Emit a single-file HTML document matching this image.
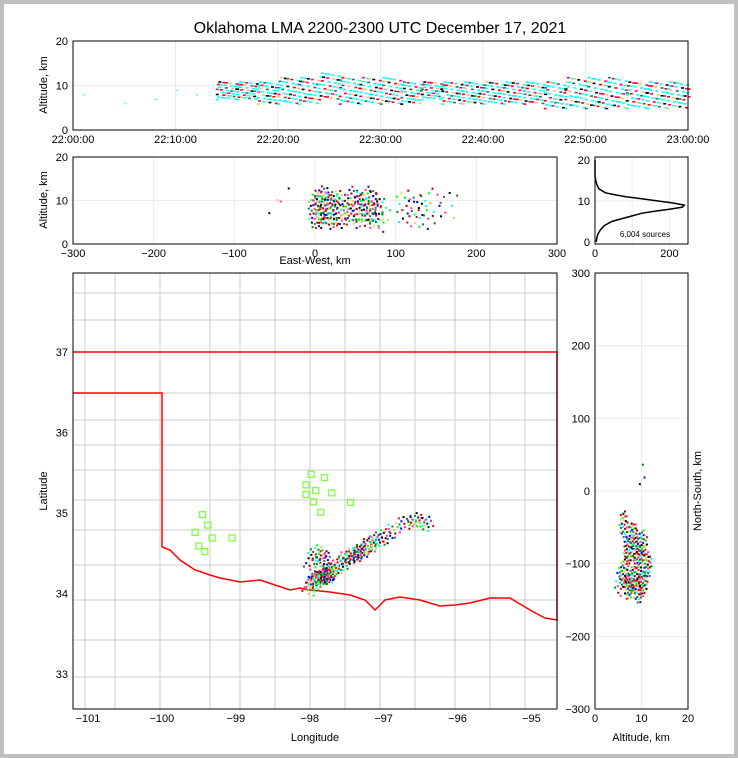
<!DOCTYPE html>
<html><head><meta charset="utf-8"><style>
html,body{margin:0;padding:0;background:#c0c0c0}
#wrap{position:absolute;left:4px;top:4px;width:730px;height:750px;background:#fff}
svg{position:absolute;left:0;top:0}
text{font-family:"Liberation Sans",sans-serif;fill:#000}
</style></head><body>
<div id="wrap"></div>
<svg id="s" width="738" height="758"></svg>
<script>
// ---- data ----
const timeMin=[15,17,19,21,23,25,27,29,31,33,35,37,39,41,43,45,47,49,51,53,55,57,59];
const timeAltLo=[7,7,6,6,6,7,6,6,6,6,7,6,6,6,6,6,5,5,5,5,5,5,5];
const timeAltHi=[11,11,11,12,12,13,12,12,12,11,11,11,11,11,11,11,11,12,12,12,11,11,11];
const earlyMin=[1,8,12,5,10];
const earlyAlt=[8,7,8,6,9];
const ewKm=[2,10,20,30,45,55,65,72,80,110,125,135,150,165,-50,-40];
const ewAlt=[8,9,8,8,9,8,9,8,7,9,8,8,9,9,10,13];
const ewCount=[50,50,45,40,40,30,40,30,14,15,15,12,8,6,2,2];
const histAlt=[0,1,2,3,4,5,6,7,7.5,8,8.5,9,9.5,10,10.5,11,11.5,12,13,14,15,16,20];
const histCnt=[3,5,8,15,25,45,85,125,160,200,235,240,210,170,130,85,55,28,10,5,2,0,0];
const stormLon=[-98.0,-97.95,-97.88,-97.8,-97.75,-97.68,-97.6,-97.5,-97.4,-97.3,-97.2,-97.1,-97.0,-96.9,-96.7,-96.55,-96.45,-97.85,-97.9,-97.98];
const stormLat=[34.08,34.15,34.2,34.22,34.28,34.33,34.38,34.45,34.5,34.55,34.62,34.68,34.73,34.8,34.9,34.92,34.88,34.45,34.52,34.38];
const stormCount=[12,25,40,40,25,18,18,22,25,28,25,18,12,12,15,18,12,20,18,12];
const sqLon=[-97.98,-97.8,-97.92,-98.05,-97.7,-97.45,-97.95,-98.05,-97.85,-99.45,-99.38,-99.55,-99.32,-99.5,-99.42,-99.05];
const sqLat=[35.48,35.44,35.28,35.35,35.25,35.13,35.14,35.23,35.01,34.98,34.85,34.76,34.69,34.59,34.52,34.69];
const nsAlt=[6,8,10,7,9,11,6,8,10,7,9,5,10];
const nsKm=[-45,-60,-70,-80,-90,-100,-110,-120,-125,-130,-135,-125,20];
const nsCount=[25,35,28,35,40,28,28,35,35,30,25,12,3];
const pal=['#ff0000','#00ff00','#0000ff','#00ffff','#ff3399','#000000','#ffbb66','#2f6f6f','#008800','#a00000'];
const tpal=['#00ffff','#00ffff','#00ffff','#00ffff','#2f6f6f','#ff0000','#ffbb66','#000000','#ff0066','#00ffff'];
// ---- axes ----
const S=document.getElementById('s');const NS='http://www.w3.org/2000/svg';
function el(t,a,p){const e=document.createElementNS(NS,t);for(const k in a)e.setAttribute(k,a[k]);(p||S).appendChild(e);return e;}
function txt(x,y,s,anchor,fs,tr){const e=el('text',{x:x,y:y,'text-anchor':anchor||'middle'});e.style.fontSize=(fs||11)+'px';if(tr)e.setAttribute('transform',tr);e.textContent=s;return e;}
const tx=m=>73+m/60*615, ty=a=>130-a/20*89;
const ex=k=>315+k/300*242, ey=a=>244-a/20*87;
const hx=c=>595+c/250*93, hy=a=>242-a/20*82;
const mx=l=>88+(l+101)*73.9, my=l=>352-(l-37)*80.5;
const nx=a=>595+a/20*93, ny=k=>491-k/300*218;
function frame(x,y,w,h,name){const r=el('rect',{x:x,y:y,width:w,height:h,fill:'none',stroke:'#000','stroke-width':1});}
function grid(x1,y1,x2,y2){el('line',{x1:x1,y1:y1,x2:x2,y2:y2,stroke:'#ececec','stroke-width':1});}
function spiral(cx,cy,n,sx,sy,cb){for(let i=0;i<n;i++){const r=Math.sqrt((i+0.5)/n),t=i*2.39996;cb(cx+Math.cos(t)*r*sx,cy+Math.sin(t)*r*sy,i);}}
// title
const ti=txt(380,33,'Oklahoma LMA 2200-2300 UTC December 17, 2021','middle',16);

// panel 1: time-height
grid(73,ty(10),688,ty(10));
for(let m=10;m<60;m+=10)grid(tx(m),41,tx(m),130);
timeMin.forEach((m,i)=>{for(let j=0;j<36;j++){const x=tx(m)+((j*7)%17)*1.3-11,a=timeAltLo[i]+((j*37)%100)/100*(timeAltHi[i]-timeAltLo[i]);
const r=el('rect',{x:x,y:ty(a),width:3,height:1.6,fill:tpal[(i*3+j)%tpal.length]});}});
earlyMin.forEach((m,i)=>{const r=el('rect',{x:tx(m),y:ty(earlyAlt[i]),width:2,height:1,fill:'#00ffff'});});
frame(73,41,615,89,'time-height-axes');
['0','10','20'].forEach((s,i)=>txt(68,ty(i*10)+4,s,'end'));
['22:00:00','22:10:00','22:20:00','22:30:00','22:40:00','22:50:00','23:00:00'].forEach((s,i)=>txt(tx(i*10),143,s));
txt(47,85,'Altitude, km','middle',11,'rotate(-90 47 85)');
// panel 2: EW
grid(73,ey(10),557,ey(10));[-200,-100,0,100,200].forEach(k=>grid(ex(k),157,ex(k),244));
ewKm.forEach((k,i)=>spiral(ex(k),ey(ewAlt[i]),ewCount[i],10,20,(x,y,j)=>{const r=el('rect',{x:x,y:y,width:2,height:2,fill:pal[(i+j)%pal.length]});}));
frame(73,157,484,87,'ew-height-axes');
['0','10','20'].forEach((s,i)=>txt(68,ey(i*10)+4,s,'end'));
[-300,-200,-100,0,100,200,300].forEach(k=>txt(ex(k),257,String(k).replace('-','−')));
txt(315,264,'East-West, km');txt(47,200,'Altitude, km','middle',11,'rotate(-90 47 200)');
// panel 3: histogram
grid(595,hy(10),688,hy(10));grid(hx(100),157,hx(100),244);grid(hx(200),157,hx(200),244);
const hp=el('polyline',{points:histAlt.map((a,i)=>hx(histCnt[i])+','+hy(a)).join(' '),fill:'none',stroke:'#000','stroke-width':1.5});

frame(595,157,93,87,'histogram-axes');
['0','10','20'].forEach((s,i)=>txt(590,hy(i*10)+4,s,'end'));
['0','200'].forEach((s,i)=>txt(hx(i*200),257,s));
txt(645,237,'6,004 sources','middle',8);
// map
const mg=el('g',{stroke:'#cccccc','stroke-width':1,fill:'none'});
[293,320,393,420,445,470,500,530,565,600,640,677].forEach(y=>el('line',{x1:73,y1:y,x2:557,y2:y},mg));
[85,115,160,210,240,275,310,345,380,415,455,490,525].forEach(x=>el('line',{x1:x,y1:273,x2:x,y2:709},mg));
const ok=el('polyline',{points:'73,352 557,352 557,620 545,618 530,610 510,598 490,598 470,603 455,605 440,606 420,600 400,597 385,600 375,610 365,600 350,595 330,592 310,590 300,588 290,590 275,585 260,580 240,582 220,578 210,575 195,570 180,560 170,550 162,547 162,393 73,393',fill:'none',stroke:'#ff0000','stroke-width':1.5});

stormLon.forEach((l,i)=>spiral(mx(l),my(stormLat[i]),stormCount[i],10,8,(x,y,j)=>{const r=el('rect',{x:x,y:y,width:2,height:2,fill:pal[(i*2+j)%pal.length]});}));
sqLon.forEach((l,i)=>{const r=el('rect',{x:mx(l)-3,y:my(sqLat[i])-3,width:6,height:6,fill:'none',stroke:'#80ff40','stroke-width':1.3});});
frame(73,273,484,436,'map-axes');
[-101,-100,-99,-98,-97,-96,-95].forEach(l=>txt(mx(l),722,String(l).replace('-','−')));
[37,36,35,34,33].forEach(l=>txt(68,my(l)+4,String(l),'end'));
txt(315,741,'Longitude');txt(47,491,'Latitude','middle',11,'rotate(-90 47 491)');
// NS panel
[200,100,0,-100,-200].forEach(k=>grid(595,ny(k),688,ny(k)));grid(nx(10),273,nx(10),709);
nsAlt.forEach((a,i)=>spiral(nx(a),ny(nsKm[i]),nsCount[i],5,14,(x,y,j)=>{const r=el('rect',{x:x,y:y,width:2,height:2,fill:pal[(i+j*3)%pal.length]});}));
frame(595,273,93,436,'ns-altitude-axes');
[300,200,100,0,-100,-200,-300].forEach(k=>txt(590,ny(k)+4,String(k).replace('-','−'),'end'));
['0','10','20'].forEach((s,i)=>txt(nx(i*10),722,s));
txt(641,741,'Altitude, km');txt(701,491,'North-South, km','middle',11,'rotate(-90 701 491)');
</script></body></html>
